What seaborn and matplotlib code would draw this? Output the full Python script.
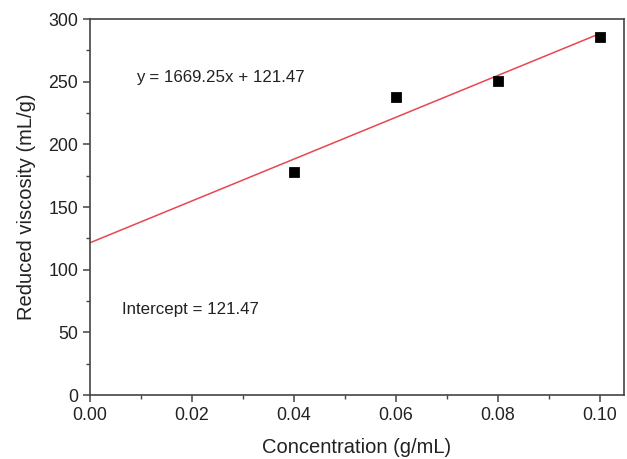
import matplotlib
matplotlib.use("Agg")
import matplotlib.pyplot as plt
import seaborn as sns
import pandas as pd
import numpy as np
from matplotlib.ticker import MultipleLocator

# measured points
concentration = [0.04, 0.06, 0.08, 0.10]
reduced_visc = [178, 238, 250.5, 285.5]

# linear fit from the reference
slope = 1669.25
intercept = 121.47
fit_x = [0.0, 0.10]
fit_y = [intercept + slope * x for x in fit_x]

sns.set_style("ticks")
plt.rcParams['font.family'] = ['Liberation Sans', 'DejaVu Sans']

fig = plt.figure(figsize=(6.27, 4.59), dpi=100)
ax = fig.add_axes([0.1435, 0.1394, 0.8517, 0.8192])

pts = pd.DataFrame({"Concentration": concentration, "Reduced viscosity": reduced_visc})
fit = pd.DataFrame({"x": fit_x, "y": fit_y})

sns.lineplot(data=fit, x="x", y="y", color="#e8464f", linewidth=1.1, ax=ax)
sns.scatterplot(data=pts, x="Concentration", y="Reduced viscosity", marker="s",
                s=50, color="black", edgecolor="black", ax=ax, zorder=3)

ax.set_xlim(0, 0.1047)
ax.set_ylim(0, 300)
ax.xaxis.set_major_locator(MultipleLocator(0.02))
ax.xaxis.set_minor_locator(MultipleLocator(0.01))
ax.yaxis.set_major_locator(MultipleLocator(50))
ax.yaxis.set_minor_locator(MultipleLocator(25))
ax.set_xticks([0, 0.02, 0.04, 0.06, 0.08, 0.10])
ax.set_xticklabels(["0.00", "0.02", "0.04", "0.06", "0.08", "0.10"])

for s in ax.spines.values():
    s.set_color("#444444")
    s.set_linewidth(1.2)
ax.tick_params(which="major", length=5, width=1.1, color="#444444", labelsize=12.8, labelcolor="#222222")
ax.tick_params(which="minor", length=3, width=1.0, color="#444444")

ax.set_xlabel("Concentration (g/mL)", fontsize=14.5, color="#222222", labelpad=10)
ax.set_ylabel("Reduced viscosity (mL/g)", fontsize=14.5, color="#222222", labelpad=9)

ax.text(0.009, 253, "y = 1669.25x + 121.47", fontsize=12.2, va="center", ha="left", color="#222222")
ax.text(0.0063, 68, "Intercept = 121.47", fontsize=12.2, va="center", ha="left", color="#222222")

fig.savefig("out.png", dpi=100)
